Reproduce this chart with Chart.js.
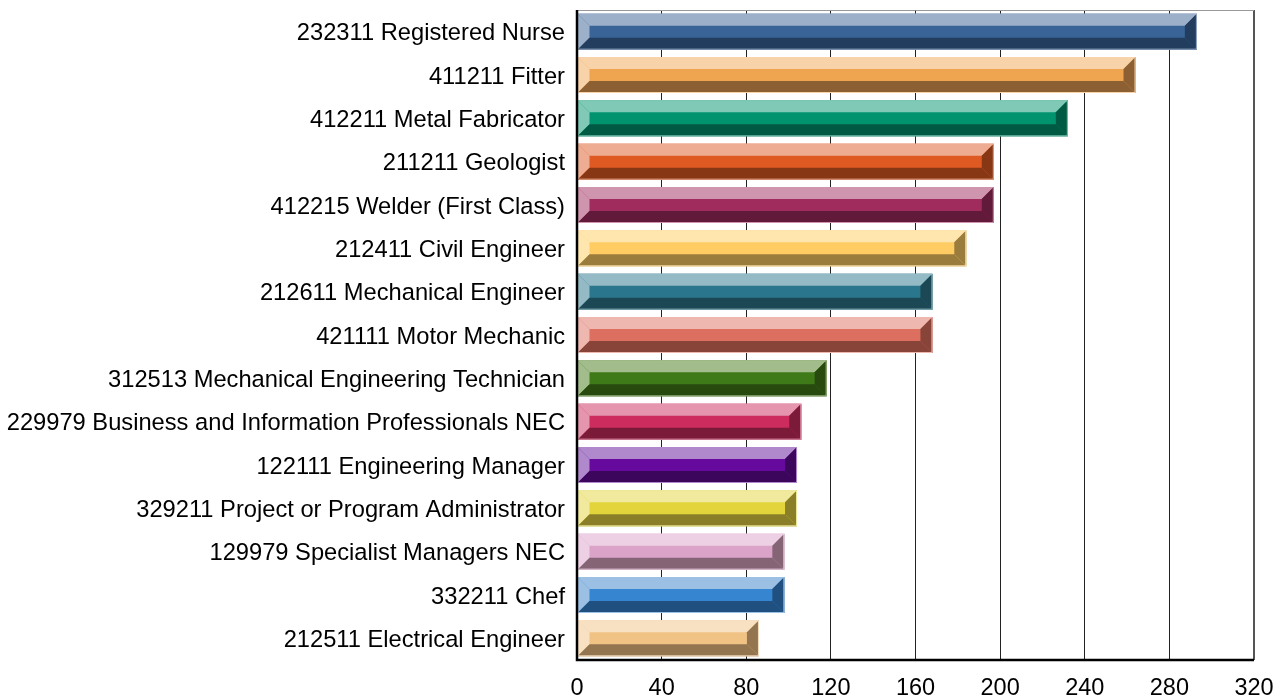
<!DOCTYPE html>
<html>
<head>
<meta charset="utf-8">
<script src="https://cdn.jsdelivr.net/npm/chart.js@4/dist/chart.umd.min.js"></script>
<style>
  html, body { margin: 0; padding: 0; background: #fff; }
  #wrap { width: 1284px; height: 697px; }
</style>
</head>
<body>
<div id="wrap"><canvas id="chart" width="1284" height="697"></canvas></div>
<script>
// data
const occupations = [
    '232311 Registered Nurse',
    '411211 Fitter',
    '412211 Metal Fabricator',
    '211211 Geologist',
    '412215 Welder (First Class)',
    '212411 Civil Engineer',
    '212611 Mechanical Engineer',
    '421111 Motor Mechanic',
    '312513 Mechanical Engineering Technician',
    '229979 Business and Information Professionals NEC',
    '122111 Engineering Manager',
    '329211 Project or Program Administrator',
    '129979 Specialist Managers NEC',
    '332211 Chef',
    '212511 Electrical Engineer'
];
const counts = [293, 264, 232, 197, 197, 184, 168, 168, 118, 106, 104, 104, 98, 98, 86];
const xTicks = [0, 40, 80, 120, 160, 200, 240, 280, 320];

// bevel colours: light (top/left), mid (face), dark (bottom/right)
const lightColors = ['#9CB0C9', '#F8D2A8', '#7FC9B6', '#EEAD93', '#D095AE', '#FEE6AE', '#94BAC5', '#EEB7B0',
    '#A2BC8B', '#E596AE', '#AF89CB', '#F1E99D', '#EDD0E4', '#9BC0E4', '#F8E0C3'];
const midColors = ['#386498', '#EFA450', '#00936E', '#DE5A22', '#A02B5D', '#FECC62', '#2A768C', '#DD6F60',
    '#3F7A18', '#CC2C5E', '#650A9C', '#E2D43A', '#DBA3C8', '#3585D0', '#F0C384'];
const darkColors = ['#223D5D', '#8D6034', '#005A43', '#873714', '#611A39', '#9A7C3C', '#1B4854', '#884438',
    '#284A0F', '#7C1A39', '#3C065D', '#8A7F28', '#856476', '#1F5080', '#937550'];

const FONT = '"Liberation Sans", Arial, sans-serif';

function poly(ctx, pts, color) {
    ctx.beginPath();
    ctx.moveTo(pts[0][0], pts[0][1]);
    for (let i = 1; i < pts.length; i++) ctx.lineTo(pts[i][0], pts[i][1]);
    ctx.closePath();
    ctx.fillStyle = color;
    ctx.fill();
}

// draws every bar as a bevelled block using the bar element geometry
const bevelBars = {
    id: 'bevelBars',
    beforeDatasetsDraw(chart) {
        const ctx = chart.ctx;
        const a = chart.chartArea;
        ctx.save();
        ctx.strokeStyle = '#999';
        ctx.lineWidth = 1;
        ctx.beginPath();
        ctx.moveTo(a.left, a.top + 0.5);
        ctx.lineTo(a.right, a.top + 0.5);
        ctx.stroke();
        ctx.restore();
    },
    afterDatasetsDraw(chart) {
        const ctx = chart.ctx;
        const meta = chart.getDatasetMeta(0);
        ctx.save();
        meta.data.forEach((bar, i) => {
            const p = bar.getProps(['x', 'y', 'base', 'height'], true);
            const x0 = Math.min(p.base, p.x), x1 = Math.max(p.base, p.x);
            const y0 = p.y - p.height / 2, y1 = p.y + p.height / 2;
            const b = 12;
            poly(ctx, [[x0, y0], [x1, y0], [x1, y1], [x0, y1]], midColors[i]);
            poly(ctx, [[x0, y0], [x1, y0], [x1 - b, y0 + b], [x0 + b, y0 + b]], lightColors[i]);
            poly(ctx, [[x0, y0], [x0 + b, y0 + b], [x0 + b, y1 - b], [x0, y1]], lightColors[i]);
            poly(ctx, [[x0, y1], [x0 + b, y1 - b], [x1 - b, y1 - b], [x1, y1]], darkColors[i]);
            poly(ctx, [[x1, y0], [x1, y1], [x1 - b, y1 - b], [x1 - b, y0 + b]], darkColors[i]);
            ctx.strokeStyle = lightColors[i];
            ctx.lineWidth = 1;
            ctx.strokeRect(x0 + 0.5, y0 + 0.5, x1 - x0 - 1, y1 - y0 - 1);
        });
        // axis lines on top
        const a = chart.chartArea;
        ctx.strokeStyle = '#000';
        ctx.lineWidth = 2.5;
        ctx.beginPath();
        ctx.moveTo(a.left, a.top);
        ctx.lineTo(a.left, a.bottom);
        ctx.lineTo(a.right, a.bottom);
        ctx.stroke();
        ctx.restore();
    }
};

new Chart(document.getElementById('chart'), {
    type: 'bar',
    data: {
        labels: occupations,
        datasets: [{
            data: counts,
            backgroundColor: 'rgba(0,0,0,0)',
            borderWidth: 0,
            barThickness: 36
        }]
    },
    options: {
        indexAxis: 'y',
        responsive: false,
        animation: false,
        layout: { padding: { top: 10, right: 30, left: 0, bottom: 0 } },
        plugins: {
            legend: { display: false },
            tooltip: { enabled: false }
        },
        scales: {
            x: {
                min: 0,
                max: 320,
                afterBuildTicks: s => { s.ticks = xTicks.map(v => ({ value: v })); },
                afterFit: s => { s.height = 37; s.paddingLeft = 0; s.paddingRight = 0; },
                grid: {
                    drawTicks: false,
                    color: ctx => ctx.tick && ctx.tick.value === 320 ? '#555' : '#222',
                    lineWidth: ctx => ctx.tick && ctx.tick.value === 320 ? 2 : 1
                },
                border: { display: false },
                ticks: {
                    padding: 14,
                    color: '#000',
                    font: { family: FONT, size: 23.5 }
                }
            },
            y: {
                afterFit: s => { s.width = 577; s.paddingTop = 0; s.paddingBottom = 0; },
                grid: { display: false, drawTicks: false },
                border: { display: false },
                ticks: {
                    padding: 12,
                    labelOffset: 2,
                    color: '#000',
                    font: { family: FONT, size: 23.7 }
                }
            }
        }
    },
    plugins: [bevelBars]
});
</script>
</body>
</html>
